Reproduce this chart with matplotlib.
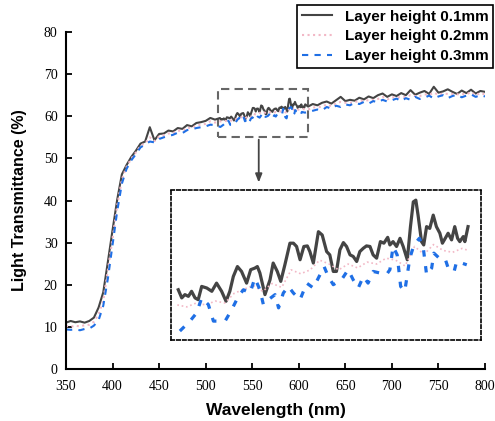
import numpy as np
import matplotlib.pyplot as plt

# outer parts of the spectrum, 5 nm steps
wl_lo = np.arange(350, 511, 5)
wl_hi = np.arange(610, 801, 5)

t01_lo = [11.0, 11.4, 11.1, 11.3, 11.0, 11.4, 12.2, 14.6, 18.2, 25.5, 33.0, 40.2, 46.2,
          48.4, 50.3, 51.8, 53.5, 54.0, 57.4, 54.3, 55.8, 55.9, 56.6, 56.4, 57.2, 57.0,
          57.9, 57.6, 58.4, 58.6, 58.9, 59.6, 59.2]
t01_hi = [62.3, 62.9, 62.6, 63.2, 63.5, 63.0, 63.8, 64.6, 63.6, 63.9, 63.7, 64.4, 64.0,
          64.7, 64.3, 65.0, 65.4, 64.6, 65.2, 64.8, 65.5, 65.0, 66.2, 65.1, 65.6, 66.0,
          65.3, 67.0, 65.6, 65.9, 66.4, 65.8, 65.3, 66.1, 65.5, 66.3, 65.4, 66.0, 65.8]

t02_lo = [10.2, 10.0, 10.3, 10.1, 10.4, 10.5, 11.2, 13.0, 16.2, 23.5, 31.0, 38.8, 45.0,
          48.0, 49.9, 51.4, 53.0, 53.6, 55.0, 54.1, 55.2, 55.5, 55.9, 56.0, 56.6, 56.5,
          57.3, 57.2, 57.8, 58.0, 58.2, 58.8, 58.5]
t02_hi = [61.6, 62.1, 62.1, 62.3, 62.8, 62.4, 63.1, 63.4, 63.2, 63.2, 63.4, 63.6, 63.7,
          63.8, 63.9, 64.1, 64.6, 64.0, 64.5, 64.5, 64.5, 64.6, 65.0, 64.8, 64.8, 65.2,
          65.1, 65.6, 65.1, 65.4, 65.3, 65.3, 65.2, 65.3, 65.2, 65.7, 65.0, 65.5, 65.2]

t03_lo = [9.4, 9.3, 9.4, 9.2, 9.5, 9.6, 10.3, 11.6, 15.0, 21.5, 29.5, 37.5, 44.0,
          47.5, 49.5, 51.0, 52.6, 53.3, 54.0, 53.8, 54.6, 55.0, 55.3, 55.6, 56.1, 56.0,
          56.7, 56.9, 57.2, 57.4, 57.6, 58.0, 57.9]
t03_hi = [61.0, 61.3, 61.6, 61.4, 62.2, 61.8, 62.5, 62.2, 62.8, 62.6, 63.2, 62.9, 63.4,
          63.0, 63.6, 63.3, 63.9, 63.5, 63.8, 64.2, 63.6, 64.3, 63.9, 64.6, 64.1, 64.4,
          64.9, 64.2, 64.7, 65.0, 64.3, 64.8, 65.1, 64.5, 64.9, 65.2, 64.6, 65.0, 64.7]

# finely sampled middle part (515-607 nm), also shown in the zoom panel
wl01_mid = [515.3, 516.4, 517.4, 518.5, 519.5, 520.6, 521.6, 522.7, 524.3, 525.9, 527.4,
            529.0, 530.4, 531.6, 532.7, 534.0, 535.3, 536.9, 538.2, 539.5, 540.3, 541.1,
            542.7, 544.3, 545.3, 546.6, 547.7, 549.0, 550.6, 551.7, 552.7, 553.8, 555.0,
            556.1, 556.9, 558.0, 559.6, 560.8, 562.2, 563.2, 564.3, 565.3, 566.4, 567.5,
            568.5, 569.6, 570.6, 571.7, 572.7, 573.8, 574.8, 575.9, 576.9, 578.0, 579.2,
            580.3, 581.5, 582.2, 583.2, 584.3, 585.4, 586.4, 587.7, 588.7, 589.6, 590.4,
            591.1, 592.2, 592.9, 593.8, 594.8, 595.9, 596.9, 598.0, 598.8, 599.7, 600.6,
            601.7, 602.7, 603.6, 604.3, 605.4, 605.9, 606.9]
t01_mid = [59.58, 59.16, 59.33, 59.24, 59.50, 59.16, 59.07, 59.75, 59.67, 59.50, 59.92,
           59.50, 58.99, 59.50, 60.26, 60.77, 60.52, 59.92, 60.61, 60.69, 60.77, 60.44,
           59.33, 60.09, 60.95, 60.52, 60.01, 60.86, 61.97, 61.97, 61.80, 61.12, 61.80,
           61.83, 61.54, 60.95, 62.56, 62.39, 61.54, 61.37, 60.52, 60.52, 61.63, 62.00,
           61.80, 61.37, 61.29, 61.03, 61.54, 61.71, 61.83, 61.80, 61.37, 61.20, 62.05,
           61.97, 62.27, 61.88, 62.05, 61.80, 62.22, 61.80, 61.12, 62.82, 64.09, 64.18,
           63.41, 62.05, 61.88, 62.82, 62.73, 63.41, 62.82, 62.48, 61.97, 62.22, 62.48,
           62.14, 62.82, 62.22, 62.05, 62.31, 62.05, 62.82]

wl02_mid = [515, 518, 521, 524, 527, 530, 533, 536, 539, 542, 545, 548, 551, 554, 557,
            560, 563, 566, 569, 572, 575, 578, 581, 584, 587, 590, 593, 596, 599, 602,
            605, 607]
t02_mid = [58.8, 58.7, 58.9, 58.8, 59.0, 58.9, 59.4, 59.6, 59.8, 59.5, 59.9, 59.7, 60.6,
           60.4, 60.6, 61.1, 60.9, 60.6, 60.9, 60.7, 61.0, 60.9, 61.2, 61.1, 60.8, 61.8,
           61.4, 61.9, 61.6, 61.5, 61.7, 61.6]

wl03_mid = [515.8, 519.0, 521.1, 522.7, 524.8, 526.4, 528.0, 530.1, 532.2, 534.3, 535.9,
            538.0, 539.5, 541.1, 542.2, 543.8, 545.9, 547.0, 548.5, 550.1, 551.7, 553.8,
            555.9, 558.0, 560.1, 561.4, 562.7, 564.3, 566.9, 569.0, 570.6, 572.2, 573.8,
            575.3, 576.9, 579.0, 581.1, 582.2, 583.2, 584.5, 585.6, 586.9, 588.5, 589.8,
            591.5, 592.7, 593.8, 595.4, 596.1, 597.8, 599.6, 600.8, 602.5, 603.3, 604.9,
            606.5]
t03_mid = [57.46, 57.97, 58.39, 59.16, 58.82, 57.97, 57.97, 57.97, 58.56, 59.24, 59.58,
           59.41, 60.18, 59.58, 58.82, 59.07, 59.33, 58.65, 59.41, 59.75, 59.41, 59.07,
           59.92, 59.67, 60.35, 60.77, 60.26, 59.84, 60.09, 60.61, 60.09, 59.67, 60.26,
           59.92, 60.52, 60.44, 60.35, 60.61, 61.80, 61.37, 59.75, 59.50, 61.20, 61.88,
           62.22, 61.80, 60.35, 60.69, 61.46, 61.20, 61.20, 60.61, 60.52, 61.03, 60.95,
           60.86]

labels = ["Layer height 0.1mm", "Layer height 0.2mm", "Layer height 0.3mm"]
colors = ["#444444", "#f2b8c6", "#1f6fe5"]
box_x = (513, 610)
box_y = (55.1, 66.5)


def join(lo, mid_wl, mid, hi):
  wl = np.concatenate([wl_lo, mid_wl, wl_hi])
  return wl, np.concatenate([lo, mid, hi])


series = [
  join(t01_lo, wl01_mid, t01_mid, t01_hi),
  join(t02_lo, wl02_mid, t02_mid, t02_hi),
  join(t03_lo, wl03_mid, t03_mid, t03_hi),
]
styles = [
  {"ls": "-"},
  {"ls": ":"},
  {"ls": (0, (3, 3))},
]

fig = plt.figure(figsize=(4.95, 4.21), dpi=100)
ax = fig.add_axes([66 / 495, 52 / 421, 419 / 495, 337 / 421])

handles = []
for (wl, t), c, st, lab in zip(series, colors, styles, labels):
  h, = ax.plot(wl, t, color=c, lw=1.5, label=lab, **st)
  handles.append(h)

ax.set_xlim(350, 800)
ax.set_ylim(0, 80)
ax.set_xticks(np.arange(350, 801, 50))
ax.set_yticks(np.arange(0, 81, 10))
for s in ["top", "right"]:
  ax.spines[s].set_visible(False)
for s in ["left", "bottom"]:
  ax.spines[s].set_linewidth(1.5)
ax.tick_params(direction="in", length=4, width=1.3, labelsize=10)
ax.tick_params(axis="x", pad=8)
ax.tick_params(axis="y", pad=6)
for lbl in ax.get_xticklabels() + ax.get_yticklabels():
  lbl.set_family("Liberation Serif")
ax.set_xlabel("Wavelength (nm)", fontsize=12.5, fontweight="bold", family="Liberation Sans",
              labelpad=7)
ax.set_ylabel("Light Transmittance (%)", fontsize=11.5, fontweight="bold",
              family="Liberation Sans", labelpad=12)

# zoom box and arrow
ax.add_patch(plt.Rectangle((box_x[0], box_y[0]), box_x[1] - box_x[0], box_y[1] - box_y[0],
                           fill=False, ls=(0, (4, 2.5)), lw=1.5, ec="#666666"))
ax.annotate("", xy=(557, 43.6), xytext=(557, box_y[0]),
            arrowprops=dict(arrowstyle="-|>,head_length=0.5,head_width=0.2",
                            color="#444444", lw=1.3))

leg = fig.legend(handles=handles, loc="upper right", bbox_to_anchor=(493 / 495, 1 - 5 / 421),
                 frameon=True, fancybox=False, edgecolor="black", framealpha=1,
                 prop={"family": "Liberation Sans", "weight": "bold", "size": 11},
                 handlelength=2.0, borderpad=0.3, labelspacing=0.38, handletextpad=0.8,
                 borderaxespad=0)
leg.get_frame().set_linewidth(1.2)

# zoom panel
ins = fig.add_axes([171 / 495, 81 / 421, 310 / 495, 150 / 421])
ins.plot(wl01_mid, t01_mid, color=colors[0], lw=2.3, ls="-")
ins.plot(wl02_mid, t02_mid, color=colors[1], lw=1.2, ls=":")
ins.plot(wl03_mid, t03_mid, color=colors[2], lw=2.3, ls=(0, (2, 3)))
ins.set_xlim(513, 611)
ins.set_ylim(57.0, 64.7)
ins.set_xticks([])
ins.set_yticks([])
for s in ins.spines.values():
  s.set_linestyle((0, (2, 1.5)))
  s.set_linewidth(1.2)

fig.savefig("out.png", dpi=100)
